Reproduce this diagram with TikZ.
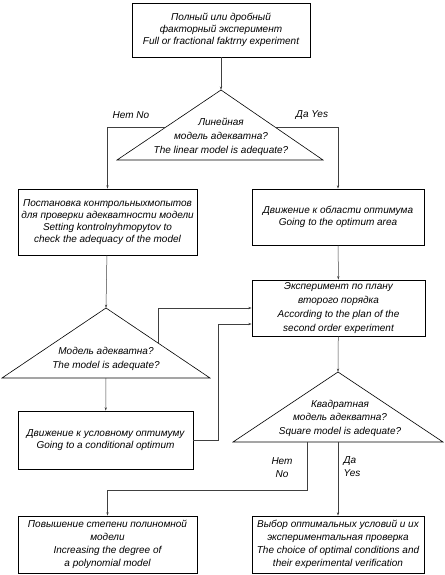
\documentclass[tikz,border=0pt]{standalone}
\usepackage{fontspec}
\setmainfont{Liberation Sans}
\usetikzlibrary{arrows.meta,calc}
\begin{document}
\begin{tikzpicture}[x=1pt,y=-1pt,
	block_node/.style={rectangle,draw,line width=0.6pt,align=center,inner sep=1pt,font=\itshape\fontsize{10}{11.8}\selectfont},
	text_node/.style={align=center,inner sep=0pt,font=\itshape\fontsize{10}{14}\selectfont},
	arr/.style={draw=black!75,line width=0.5pt,-{Stealth[length=3.5pt,width=2.2pt]}},
	tri/.style={draw,line width=0.6pt}]
	
	\useasboundingbox (0,0) rectangle (444,575);
	
	% blocks
	\node[block_node,minimum width=178,minimum height=54] (full) at (221,30) {Полный или дробный\\факторный эксперимент\\Full or fractional faktrny experiment};
	\node[block_node,minimum width=179,minimum height=66] (check) at (107.5,222) {Постановка контрольныхмопытов\\для проверки адекватности модели\\Setting kontrolnyhmopytov to\\check the adequacy of the model};
	\node[block_node,minimum width=172,minimum height=56] (opt) at (338,217) {Движение к области оптимума\\Going to the optimum area};
	\node[block_node,minimum width=173,minimum height=56,font=\itshape\fontsize{10}{14}\selectfont] (plan) at (338.5,308) {Эксперимент по плану\\второго порядка\\According to the plan of the\\second order experiment};
	\node[block_node,minimum width=175,minimum height=58] (cond) at (105.5,440) {Движение к условному оптимуму\\Going to a conditional optimum};
	\node[block_node,minimum width=179,minimum height=57,font=\itshape\fontsize{10}{13}\selectfont] (poly) at (107.5,544.5) {Повышение степени полиномной\\модели\\Increasing the degree of\\a polynomial model};
	\node[block_node,minimum width=172,minimum height=57,font=\itshape\fontsize{10}{13}\selectfont] (final) at (338,544.5) {Выбор оптимальных условий и их\\экспериментальная проверка\\The choice of optimal conditions and\\their experimental verification};
	
	% triangles
	\coordinate (t1) at (221,90);
	\coordinate (t1a) at (117,160);
	\coordinate (t1b) at (323,160);
	\draw[tri] (t1) -- (t1a) -- (t1b) -- cycle;
	\node[text_node] (q1) at (221,137) {Линейная\\модель адекватна?\\The linear model is adequate?};
	
	\coordinate (t2) at (106,308);
	\coordinate (t2a) at (2,378);
	\coordinate (t2b) at (210,378);
	\draw[tri] (t2) -- (t2a) -- (t2b) -- cycle;
	\node[text_node] (q2) at (106,359) {Модель адекватна?\\The model is adequate?};
	
	\coordinate (t3) at (338,372);
	\coordinate (t3a) at (233,442);
	\coordinate (t3b) at (443,442);
	\draw[tri] (t3) -- (t3a) -- (t3b) -- cycle;
	\node[text_node,font=\itshape\fontsize{10}{13.5}\selectfont] (q3) at (340,418) {Квадратная\\модель адекватна?\\Square model is adequate?};
	
	\coordinate (t1l) at ($(t1)!0.53!(t1a)$);
	\coordinate (t1r) at ($(t1)!0.53!(t1b)$);
	\coordinate (t2r) at ($(t2)!0.5!(t2b)$);
	\coordinate (t2c) at (106,378);
	\coordinate (t3n) at (307,442);
	\coordinate (t3y) at (338,442);
	
	% labels
	\node[text_node] (no1) at (131,115) {Нет No};
	\node[text_node] (yes1) at (312,115) {Да Yes};
	\node[text_node,font=\itshape\fontsize{10}{13}\selectfont] (no3) at (282,468) {Нет\\No};
	\node[text_node,font=\itshape\fontsize{10}{13}\selectfont,align=left] (yes3) at (352,467) {Да\\Yes};
	
	% connectors
	\draw[arr] (full) -- (t1);
	\draw[arr] (t1l) -| (check.north);
	\draw[arr] (t1r) -| (opt.north);
	\draw[arr] (opt) -- (plan);
	\draw[arr] (check) -- (t2);
	\draw[arr] (t2r) |- (plan.west);
	\draw[arr] (t2c) -- (cond);
	\draw[arr] (cond.east) -- ++(25,0) |- ([yshift=-16pt]plan.west);
	\draw[arr] (plan) -- (t3);
	\draw[arr] (t3n) -- ++(0,48) -| (poly.north);
	\draw[arr] (t3y) -- (final);
\end{tikzpicture}
\end{document}
